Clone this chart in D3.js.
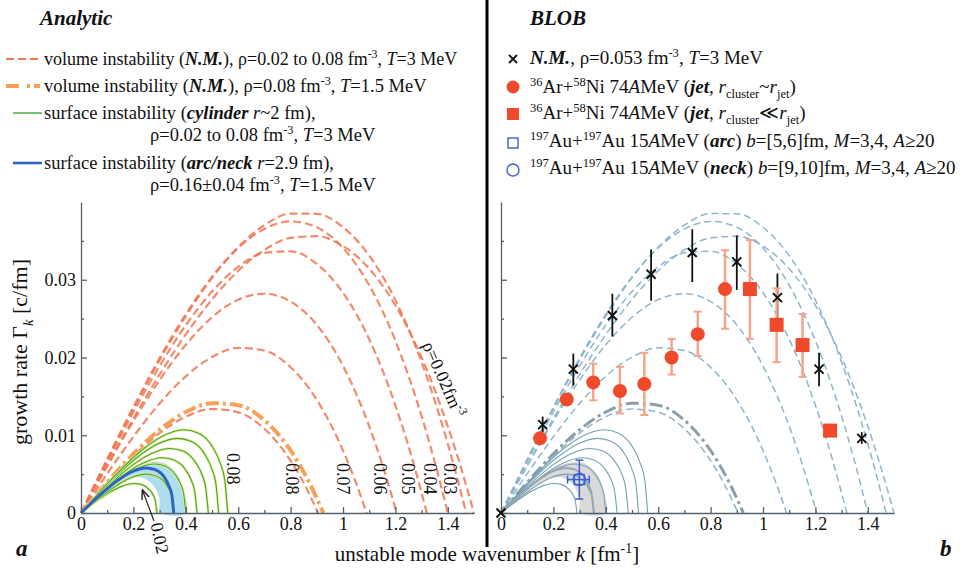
<!DOCTYPE html>
<html><head><meta charset="utf-8">
<script src="https://cdn.jsdelivr.net/npm/d3@7/dist/d3.min.js"></script>
<style>
body{margin:0;background:#fff}
svg{display:block}
text{font-family:"Liberation Serif","Times New Roman",serif;fill:#111}
</style></head>
<body><svg id="c" width="971" height="577"></svg>
<script>
// ---------------- DATA ----------------
// volume instability (N.M.), T=3 MeV, k [fm^-1] vs growth rate [c/fm]
const vol002 = [[0,0],[0.1,0.00615],[0.2,0.01214],[0.3,0.0178],[0.4,0.02296],[0.5,0.02747],[0.6,0.03115],[0.7,0.03384],[0.8,0.03538],[0.9,0.0356],[1.0,0.03433],[1.1,0.03142],[1.2,0.0267],[1.3,0.02],[1.4,0.01115],[1.45,0.00587],[1.5,0]];
const vol003 = [[0,0],[0.1,0.00681],[0.2,0.01343],[0.3,0.01967],[0.4,0.02533],[0.5,0.03024],[0.6,0.0342],[0.7,0.03702],[0.8,0.03851],[0.9,0.03848],[1.0,0.03675],[1.1,0.03311],[1.2,0.02738],[1.3,0.01938],[1.4,0.0089],[1.44,0.00397],[1.47,0]];
const vol004 = [[0,0],[0.1,0.00692],[0.2,0.01364],[0.3,0.01992],[0.4,0.02557],[0.5,0.03036],[0.6,0.03409],[0.7,0.03654],[0.8,0.0375],[0.9,0.03675],[1.0,0.03409],[1.1,0.0293],[1.2,0.02216],[1.3,0.01246],[1.35,0.00659],[1.4,0]];
const vol005 = [[0,0],[0.1,0.00661],[0.2,0.01299],[0.3,0.01892],[0.4,0.02416],[0.5,0.02848],[0.6,0.03166],[0.7,0.03346],[0.8,0.03366],[0.9,0.03203],[1.0,0.02833],[1.1,0.02235],[1.2,0.01385],[1.27,0.00628],[1.32,0]];
const vol006 = [[0,0],[0.1,0.00604],[0.2,0.01182],[0.3,0.01711],[0.4,0.02164],[0.5,0.02517],[0.6,0.02744],[0.7,0.0282],[0.8,0.0272],[0.9,0.02419],[1.0,0.01893],[1.1,0.01115],[1.15,0.00624],[1.205,0]];
const vol007 = [[0,0],[0.1,0.00504],[0.2,0.00982],[0.3,0.01409],[0.4,0.01758],[0.5,0.02006],[0.6,0.02124],[0.7,0.02089],[0.8,0.01875],[0.9,0.01455],[1.0,0.00804],[1.05,0.00384],[1.09,0]];
const vol008 = [[0,0],[0.1,0.0038],[0.2,0.00732],[0.3,0.01028],[0.4,0.01239],[0.5,0.01337],[0.6,0.01295],[0.7,0.01083],[0.8,0.00673],[0.85,0.00386],[0.905,0]];
// volume instability rho=0.08, T=1.5 MeV
const vol008T15 = [[0,0],[0.1,0.00394],[0.2,0.00761],[0.3,0.01071],[0.4,0.01298],[0.5,0.01412],[0.6,0.01387],[0.7,0.01193],[0.8,0.00804],[0.87,0.004],[0.925,0]];
// surface instability, cylinder r~2 fm, rho = 0.02 .. 0.08
const cyl002 = [[0,0],[0.058,0.00149],[0.116,0.00279],[0.160,0.00349],[0.203,0.0038],[0.232,0.00365],[0.261,0.00298],[0.276,0.00225],[0.284,0.00148],[0.29,0]];
const cyl003 = [[0,0],[0.071,0.00196],[0.142,0.00367],[0.195,0.00459],[0.249,0.005],[0.284,0.0048],[0.320,0.00392],[0.337,0.00297],[0.348,0.00195],[0.355,0]];
const cyl004 = [[0,0],[0.08,0.00247],[0.16,0.00462],[0.22,0.00579],[0.28,0.0063],[0.32,0.00605],[0.36,0.00494],[0.38,0.00374],[0.392,0.00246],[0.40,0]];
const cyl005 = [[0,0],[0.0886,0.00278],[0.177,0.00521],[0.244,0.00652],[0.310,0.0071],[0.354,0.00682],[0.399,0.00557],[0.421,0.00421],[0.434,0.00277],[0.443,0]];
const cyl006 = [[0,0],[0.0972,0.00325],[0.194,0.00609],[0.267,0.00763],[0.340,0.0083],[0.389,0.00797],[0.437,0.00651],[0.462,0.00492],[0.476,0.00324],[0.486,0]];
const cyl007 = [[0,0],[0.105,0.00376],[0.21,0.00704],[0.289,0.00882],[0.368,0.0096],[0.42,0.00922],[0.473,0.00753],[0.499,0.0057],[0.515,0.00374],[0.525,0]];
const cyl008 = [[0,0],[0.112,0.00419],[0.224,0.00785],[0.308,0.00983],[0.392,0.0107],[0.448,0.01027],[0.504,0.0084],[0.532,0.00635],[0.549,0.00417],[0.56,0]];
// surface instability arc/neck r=2.9 fm, rho=0.16 (+-0.04), T=1.5 MeV
const arcNeck = [[0,0],[0.0708,0.00227],[0.142,0.00425],[0.195,0.00533],[0.248,0.0058],[0.283,0.00557],[0.319,0.00455],[0.336,0.00344],[0.347,0.00226],[0.354,0]];
const arcNeckLow = [[0,0],[0.061,0.0018],[0.122,0.00337],[0.168,0.00423],[0.214,0.0046],[0.244,0.00442],[0.275,0.00361],[0.290,0.00273],[0.299,0.00179],[0.305,0]];
const arcNeckHigh = [[0,0],[0.0804,0.00259],[0.161,0.00484],[0.221,0.00606],[0.281,0.0066],[0.322,0.00634],[0.362,0.00518],[0.382,0.00392],[0.394,0.00257],[0.402,0]];
// BLOB: nuclear matter rho=0.053, T=3 MeV
const nmK   = [0, 0.159, 0.276, 0.425, 0.573, 0.730, 0.900, 1.055, 1.214, 1.377];
const nmG   = [0, 0.01137, 0.0185, 0.0254, 0.0307, 0.0335, 0.0323, 0.0277, 0.0185, 0.0096];
const nmLo  = [0, 0.0104, 0.0164, 0.0227, 0.0273, 0.0297, 0.0287, 0.0250, 0.0163, 0.0089];
const nmHi  = [0, 0.0124, 0.0205, 0.0282, 0.0339, 0.0365, 0.0357, 0.0308, 0.0206, 0.0104];
// 36Ar+58Ni, jet, r_cluster ~ r_jet
const jetK  = [0.149, 0.251, 0.352, 0.454, 0.547, 0.651, 0.751, 0.855];
const jetG  = [0.0096, 0.0146, 0.0168, 0.0157, 0.0166, 0.0200, 0.0230, 0.0288];
const jetLo = [0.0096, 0.0146, 0.0145, 0.0128, 0.0126, 0.0178, 0.0202, 0.0237];
const jetHi = [0.0096, 0.0146, 0.0192, 0.0188, 0.0206, 0.0224, 0.0259, 0.0338];
// 36Ar+58Ni, jet, r_cluster << r_jet
const jet2K  = [0.950, 1.052, 1.151, 1.256];
const jet2G  = [0.0288, 0.0242, 0.0216, 0.0106];
const jet2Lo = [0.0224, 0.0194, 0.0175, 0.0106];
const jet2Hi = [0.0351, 0.0289, 0.0256, 0.0106];
// 197Au+197Au arc and neck
const auK = [0.299], auG = [0.0043], auKLo = [0.254], auKHi = [0.337], auGLo = [0.0018], auGHi = [0.0068];
// ticks and labels
const xTicks = [0, 0.2, 0.4, 0.6, 0.8, 1, 1.2, 1.4];
const yTicks = [0, 0.01, 0.02, 0.03];
const volLabels = ["0.08", "0.07", "0.06", "0.05", "0.04", "0.03"];

// ---------------- DRAWING ----------------
const svg = d3.select("#c");
const xL = d3.scaleLinear([0, 1.5], [81, 474]);
const xR = d3.scaleLinear([0, 1.5], [501, 894]);
const y  = d3.scaleLinear([0, 0.04], [513, 202]);

function rich(sel, x, yy, str, size, anchor) {
  const t = sel.append("text").attr("x", x).attr("y", yy).attr("font-size", size);
  if (anchor) t.attr("text-anchor", anchor);
  const re = /<(\/?)(bi|i|b|sup|sub)>/g;
  const st = {b:false, i:false, sup:false, sub:false};
  let last = 0, m, shift = 0;
  function push(s) {
    if (!s) return;
    const ts = t.append("tspan").text(s);
    if (st.b) ts.attr("font-weight", "bold");
    if (st.i) ts.attr("font-style", "italic");
    const target = st.sup ? -0.38 * size : (st.sub ? 0.28 * size : 0);
    if (target !== shift) { ts.attr("dy", target - shift); shift = target; }
    if (st.sup || st.sub) ts.attr("font-size", size * 0.66);
  }
  while ((m = re.exec(str))) {
    push(str.slice(last, m.index));
    const on = !m[1];
    if (m[2] === "bi") { st.b = on; st.i = on; } else st[m[2]] = on;
    last = re.lastIndex;
  }
  push(str.slice(last));
  return t;
}

const volAll = [vol002, vol003, vol004, vol005, vol006, vol007, vol008];
const cylAll = [cyl002, cyl003, cyl004, cyl005, cyl006, cyl007, cyl008];

function panel(xs, sty, showYLabels) {
  const g = svg.append("g");
  const line = d3.line().x(d => xs(d[0])).y(d => y(d[1])).curve(d3.curveMonotoneX);
  const bandPts = arcNeckHigh.concat(arcNeckLow.slice().reverse());
  volAll.forEach(c => g.append("path").attr("d", line(c)).attr("fill", "none")
    .attr("stroke", sty.vol).attr("stroke-width", sty.volW).attr("stroke-dasharray", sty.volDash)
    .attr("stroke-opacity", sty.volOp));
  g.append("path").attr("d", line(vol008T15)).attr("fill", "none")
    .attr("stroke", sty.dd).attr("stroke-width", sty.ddW).attr("stroke-dasharray", "13,4,3,4");
  g.append("path").attr("d", d3.line().x(d => xs(d[0])).y(d => y(d[1])).curve(d3.curveCatmullRomClosed)(bandPts))
    .attr("fill", sty.band).attr("stroke", "none");
  cylAll.forEach(c => {
    if (sty.halo) g.append("path").attr("d", line(c)).attr("fill", "none")
      .attr("stroke", sty.halo).attr("stroke-width", 2.6);
    g.append("path").attr("d", line(c)).attr("fill", "none")
      .attr("stroke", sty.cyl).attr("stroke-width", sty.cylW);
  });
  g.append("path").attr("d", line(arcNeck)).attr("fill", "none")
    .attr("stroke", sty.arc).attr("stroke-width", sty.arcW);

  const ax = svg.append("g").attr("transform", `translate(0,${y(0)})`)
    .call(d3.axisBottom(xs).tickValues(xTicks).tickSize(-6).tickSizeOuter(0).tickPadding(4)
      .tickFormat(d => d === 0 ? "0" : d3.format("")(d)));
  ax.call(a => a.selectAll("text").attr("font-size", 18).attr("font-family", "Liberation Serif").attr("fill", "#111"));
  svg.append("g").attr("transform", `translate(0,${y(0)})`)
    .call(d3.axisBottom(xs).tickValues(d3.range(0.1, 1.5, 0.2)).tickSize(-3).tickFormat(""))
    .call(a => a.select(".domain").remove());
  const ay = svg.append("g").attr("transform", `translate(${xs(0)},0)`)
    .call(d3.axisLeft(y).tickValues(yTicks).tickSize(-6).tickSizeOuter(0).tickPadding(5)
      .tickFormat(d => showYLabels ? (d === 0 ? "0" : d3.format(".2f")(d)) : ""));
  ay.call(a => a.selectAll("text").attr("font-size", 18).attr("font-family", "Liberation Serif").attr("fill", "#111"));
  svg.append("g").attr("transform", `translate(${xs(0)},0)`)
    .call(d3.axisLeft(y).tickValues([0.005, 0.015, 0.025, 0.035]).tickSize(-3).tickFormat(""))
    .call(a => a.select(".domain").remove());
  svg.selectAll(".domain, .tick line").attr("stroke", "#556068").attr("stroke-width", 1.3);
  return g;
}

// ----- left panel
panel(xL, {vol: "#f27552", volW: 2.2, volDash: "8,4", volOp: 0.85,
  dd: "#f6a055", ddW: 4, band: "#b1dcef", halo: "#ecea86", cyl: "#3aaa40", cylW: 1.1,
  arc: "#2a66c2", arcW: 3}, true);

const labK = [0.805, 1.002, 1.142, 1.250, 1.333, 1.410];
volLabels.forEach((t, i) => {
  svg.append("text").attr("font-size", 18)
    .attr("transform", `translate(${xL(labK[i])},${y(0.0044)}) rotate(90)`)
    .attr("text-anchor", "middle").attr("dy", "0.35em").text(t);
});
svg.append("text").attr("font-size", 18)
  .attr("transform", `translate(${xL(0.582)},${y(0.0057)}) rotate(90)`)
  .attr("text-anchor", "middle").attr("dy", "0.35em").text("0.08");
rich(svg.append("g").attr("transform", `translate(${xL(1.385)},${y(0.0172)}) rotate(66)`),
  0, 6, "ρ=0.02fm<sup>-3</sup>", 18, "middle");
svg.append("defs").append("marker").attr("id", "ah").attr("viewBox", "0 0 10 10")
  .attr("refX", 9).attr("refY", 5).attr("markerWidth", 8).attr("markerHeight", 8).attr("orient", "auto")
  .append("path").attr("d", "M0,1 L10,5 L0,9").attr("fill", "none").attr("stroke", "#222").attr("stroke-width", 1.5);
svg.append("line").attr("x1", 154).attr("y1", 521).attr("x2", xL(0.235)).attr("y2", y(0.0029))
  .attr("stroke", "#222").attr("stroke-width", 1.2).attr("marker-end", "url(#ah)");
svg.append("text").attr("font-size", 18)
  .attr("transform", `translate(160,538) rotate(78)`).attr("text-anchor", "middle").attr("dy", "0.35em").text("0.02");

// ----- right panel
panel(xR, {vol: "#8cb6cc", volW: 1.5, volDash: "7,4", volOp: 1,
  dd: "#8e9ea8", ddW: 3, band: "#d9d9d9", halo: null, cyl: "#74a0b4", cylW: 1.1,
  arc: "#9aa6ad", arcW: 2}, false);

const pts = svg.append("g");
nmK.forEach((k, i) => {
  const cx = xR(k);
  pts.append("line").attr("x1", cx).attr("x2", cx).attr("y1", y(nmLo[i])).attr("y2", y(nmHi[i]))
    .attr("stroke", "#111").attr("stroke-width", 1.8);
});
function errBars(K, Lo, Hi) {
  K.forEach((k, i) => {
    const cx = xR(k);
    if (Hi[i] > Lo[i]) {
      pts.append("line").attr("x1", cx).attr("x2", cx).attr("y1", y(Lo[i])).attr("y2", y(Hi[i]))
        .attr("stroke", "#f6a488").attr("stroke-width", 2.5);
      [Lo[i], Hi[i]].forEach(v => pts.append("line").attr("x1", cx - 4).attr("x2", cx + 4)
        .attr("y1", y(v)).attr("y2", y(v)).attr("stroke", "#f6a488").attr("stroke-width", 2));
    }
  });
}
errBars(jetK, jetLo, jetHi);
errBars(jet2K, jet2Lo, jet2Hi);
jetK.forEach((k, i) => pts.append("circle").attr("cx", xR(k)).attr("cy", y(jetG[i])).attr("r", 7).attr("fill", "#f04a2c"));
jet2K.forEach((k, i) => pts.append("rect").attr("x", xR(k) - 7).attr("y", y(jet2G[i]) - 7)
  .attr("width", 14).attr("height", 14).attr("fill", "#f04a2c"));
nmK.forEach((k, i) => {
  const cx = xR(k), cy = y(nmG[i]), s = 4.5;
  pts.append("path").attr("d", `M${cx - s},${cy - s}L${cx + s},${cy + s}M${cx - s},${cy + s}L${cx + s},${cy - s}`)
    .attr("stroke", "#111").attr("stroke-width", 2);
});
auK.forEach((k, i) => {
  const cx = xR(k), cy = y(auG[i]), c = "#3b5fd0";
  pts.append("line").attr("x1", cx).attr("x2", cx).attr("y1", y(auGLo[i])).attr("y2", y(auGHi[i])).attr("stroke", c).attr("stroke-width", 1.5);
  pts.append("line").attr("x1", xR(auKLo[i])).attr("x2", xR(auKHi[i])).attr("y1", cy).attr("y2", cy).attr("stroke", c).attr("stroke-width", 1.5);
  [auGLo[i], auGHi[i]].forEach(v => pts.append("line").attr("x1", cx - 4).attr("x2", cx + 4).attr("y1", y(v)).attr("y2", y(v)).attr("stroke", c).attr("stroke-width", 1.5));
  [auKLo[i], auKHi[i]].forEach(v => pts.append("line").attr("x1", xR(v)).attr("x2", xR(v)).attr("y1", cy - 4).attr("y2", cy + 4).attr("stroke", c).attr("stroke-width", 1.5));
  pts.append("rect").attr("x", cx - 5).attr("y", cy - 5).attr("width", 10).attr("height", 10).attr("fill", "none").attr("stroke", c).attr("stroke-width", 1.4);
  pts.append("circle").attr("cx", cx).attr("cy", cy).attr("r", 6).attr("fill", "none").attr("stroke", c).attr("stroke-width", 1.4);
});

// ----- divider
svg.append("rect").attr("x", 485.5).attr("y", 0).attr("width", 3).attr("height", 547).attr("fill", "#000");

// ----- titles
rich(svg, 40, 25, "<bi>Analytic</bi>", 21);
rich(svg, 530, 25, "<bi>BLOB</bi>", 21);

// ----- left legend
const LL = svg.append("g");
LL.append("line").attr("x1", 6).attr("x2", 40).attr("y1", 59).attr("y2", 59).attr("stroke", "#f27552").attr("stroke-width", 2.2).attr("stroke-dasharray", "8,4");
LL.append("line").attr("x1", 6).attr("x2", 40).attr("y1", 86).attr("y2", 86).attr("stroke", "#f6a055").attr("stroke-width", 4).attr("stroke-dasharray", "13,8,3,4");
LL.append("line").attr("x1", 13).attr("x2", 42).attr("y1", 113).attr("y2", 113).attr("stroke", "#3aaa40").attr("stroke-width", 1.4);
LL.append("line").attr("x1", 13).attr("x2", 42).attr("y1", 163).attr("y2", 163).attr("stroke", "#2a66c2").attr("stroke-width", 2.6);
rich(LL, 44, 65, "volume instability (<bi>N.M.</bi>), ρ=0.02 to 0.08 fm<sup>-3</sup>, <i>T</i>=3 MeV", 18);
rich(LL, 44, 92, "volume instability (<bi>N.M.</bi>), ρ=0.08 fm<sup>-3</sup>, <i>T</i>=1.5 MeV", 18.5);
rich(LL, 44, 119, "surface instability (<bi>cylinder</bi> <i>r</i>~2 fm),", 18.5);
rich(LL, 150, 141, "ρ=0.02 to 0.08 fm<sup>-3</sup>, <i>T</i>=3 MeV", 18.5);
rich(LL, 44, 169, "surface instability (<bi>arc/neck</bi> <i>r</i>=2.9 fm),", 18.5);
rich(LL, 150, 191, "ρ=0.16±0.04 fm<sup>-3</sup>, <i>T</i>=1.5 MeV", 18.5);

// ----- right legend
const RL = svg.append("g");
{
  const cx = 513, s = 4;
  RL.append("path").attr("d", `M${cx - s},${59 - s}L${cx + s},${59 + s}M${cx - s},${59 + s}L${cx + s},${59 - s}`).attr("stroke", "#111").attr("stroke-width", 1.8);
  RL.append("circle").attr("cx", 513).attr("cy", 87).attr("r", 6.5).attr("fill", "#f04a2c");
  RL.append("rect").attr("x", 507).attr("y", 108).attr("width", 12).attr("height", 12).attr("fill", "#f04a2c");
  RL.append("rect").attr("x", 508).attr("y", 138).attr("width", 10).attr("height", 10).attr("fill", "none").attr("stroke", "#3b5fd0").attr("stroke-width", 1.4);
  RL.append("circle").attr("cx", 513).attr("cy", 170).attr("r", 6).attr("fill", "none").attr("stroke", "#3b5fd0").attr("stroke-width", 1.4);
}
rich(RL, 530, 64, "<bi>N.M.</bi>, ρ=0.053 fm<sup>-3</sup>, <i>T</i>=3 MeV", 19);
rich(RL, 530, 93, "<sup>36</sup>Ar+<sup>58</sup>Ni 74<i>A</i>MeV (<bi>jet</bi>, <i>r</i><sub>cluster</sub>~<i>r</i><sub>jet</sub>)", 19);
rich(RL, 530, 119, "<sup>36</sup>Ar+<sup>58</sup>Ni 74<i>A</i>MeV (<bi>jet</bi>, <i>r</i><sub>cluster</sub>≪<i>r</i><sub>jet</sub>)", 19);
rich(RL, 530, 147, "<sup>197</sup>Au+<sup>197</sup>Au 15<i>A</i>MeV (<bi>arc</bi>) <i>b</i>=[5,6]fm, <i>M</i>=3,4, <i>A</i>≥20", 19);
rich(RL, 530, 174, "<sup>197</sup>Au+<sup>197</sup>Au 15<i>A</i>MeV (<bi>neck</bi>) <i>b</i>=[9,10]fm, <i>M</i>=3,4, <i>A</i>≥20", 19);

// ----- axis titles
rich(svg.append("g").attr("transform", "translate(27,352) rotate(-90)"), 0, 0,
  "growth rate  Γ<sub><i>k</i></sub>  [c/fm]", 22, "middle");
rich(svg, 487, 561, "unstable mode wavenumber  <i>k</i> [fm<sup>-1</sup>]", 21, "middle");
rich(svg, 16, 556, "<bi>a</bi>", 23);
rich(svg, 940, 556, "<bi>b</bi>", 23);
</script></body></html>
